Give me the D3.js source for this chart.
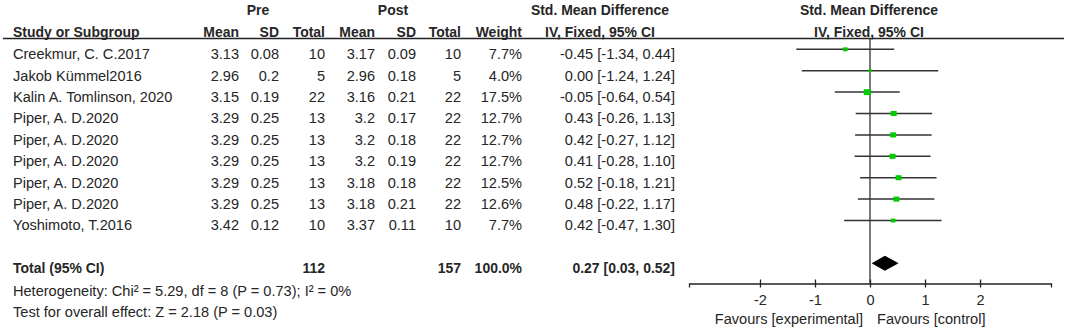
<!DOCTYPE html>
<html><head><meta charset="utf-8">
<script src="https://cdn.jsdelivr.net/npm/d3@7"></script>
<style>body{margin:0;background:#fff}svg{display:block}</style>
</head><body>
<script>
const studies = ["Creekmur, C. C.2017","Jakob Kümmel2016","Kalin A. Tomlinson, 2020","Piper, A. D.2020","Piper, A. D.2020","Piper, A. D.2020","Piper, A. D.2020","Piper, A. D.2020","Yoshimoto, T.2016"];
const preMean = [3.13,2.96,3.15,3.29,3.29,3.29,3.29,3.29,3.42];
const preSD = [0.08,0.2,0.19,0.25,0.25,0.25,0.25,0.25,0.12];
const preTotal = [10,5,22,13,13,13,13,13,10];
const postMean = [3.17,2.96,3.16,3.2,3.2,3.2,3.18,3.18,3.37];
const postSD = [0.09,0.18,0.21,0.17,0.18,0.19,0.18,0.21,0.11];
const postTotal = [10,5,22,22,22,22,22,22,10];
const weight = [7.7,4.0,17.5,12.7,12.7,12.7,12.5,12.6,7.7];
const smd = [-0.45,0.00,-0.05,0.43,0.42,0.41,0.52,0.48,0.42];
const ciLo = [-1.34,-1.24,-0.64,-0.26,-0.27,-0.28,-0.18,-0.22,-0.47];
const ciHi = [0.44,1.24,0.54,1.13,1.12,1.10,1.21,1.17,1.30];
const total = {label:"Total (95% CI)", pre:112, post:157, weight:"100.0%", est:0.27, lo:0.03, hi:0.52};
const hetText = "Heterogeneity: Chi² = 5.29, df = 8 (P = 0.73); I² = 0%";
const testText = "Test for overall effect: Z = 2.18 (P = 0.03)";
const tickValues = [-2,-1,0,1,2];
const favLeft = "Favours [experimental]";
const favRight = "Favours [control]";

const W = 1065, H = 331;
const FS = 15.2, SX = 0.96, SXB = 0.92;
const font = "Liberation Sans, Arial, sans-serif";
const txt = "#262626";
const svg = d3.select("body").append("svg").attr("width", W).attr("height", H);

const rowY = d3.scaleLinear().domain([0, 1]).range([49.3, 70.7]);
const x = d3.scaleLinear().domain([-3.29, 3.29]).range([689, 1051]);
const sq = d3.scaleSqrt().domain([0, 17.5]).range([0, 7]);
const TXT_OFF = 9.8;

// text drawn at baseline y
function t(str, xx, y, anchor, bold) {
  svg.append("text")
    .attr("transform", `translate(${xx},${y}) scale(${bold ? SXB : SX},1)`)
    .attr("text-anchor", anchor || "start")
    .attr("font-family", font).attr("font-size", FS)
    .attr("font-weight", bold ? "bold" : "normal").attr("fill", txt).text(str);
}

// header
const h1 = 15, h2 = 36.5;
t("Pre", 258, h1, "middle", true);
t("Post", 393, h1, "middle", true);
t("Std. Mean Difference", 600, h1, "middle", true);
t("Std. Mean Difference", 869, h1, "middle", true);
t("Study or Subgroup", 13, h2, "start", true);
const colX = {pm:239, ps:279, pt:325, qm:375, qs:416, qt:461, w:522, smd:675};
t("Mean", colX.pm, h2, "end", true);
t("SD", colX.ps, h2, "end", true);
t("Total", colX.pt, h2, "end", true);
t("Mean", colX.qm, h2, "end", true);
t("SD", colX.qs, h2, "end", true);
t("Total", colX.qt, h2, "end", true);
t("Weight", colX.w, h2, "end", true);
t("IV, Fixed, 95% CI", 600, h2, "middle", true);
t("IV, Fixed, 95% CI", 869, h2, "middle", true);

svg.append("line").attr("x1", 3).attr("x2", 1064).attr("y1", 38.5).attr("y2", 38.5)
  .attr("stroke", "#222").attr("stroke-width", 1.3);

// rows
studies.forEach((s, i) => {
  const y = rowY(i) + TXT_OFF;
  t(s, 13, y);
  t(String(preMean[i]), colX.pm, y, "end");
  t(String(preSD[i]), colX.ps, y, "end");
  t(String(preTotal[i]), colX.pt, y, "end");
  t(String(postMean[i]), colX.qm, y, "end");
  t(String(postSD[i]), colX.qs, y, "end");
  t(String(postTotal[i]), colX.qt, y, "end");
  t(weight[i].toFixed(1) + "%", colX.w, y, "end");
  t(smd[i].toFixed(2) + " [" + ciLo[i].toFixed(2) + ", " + ciHi[i].toFixed(2) + "]", colX.smd, y, "end");
});

const yTot = rowY(10);
const yTotT = yTot + TXT_OFF;
t(total.label, 13, yTotT, "start", true);
t(String(total.pre), colX.pt, yTotT, "end", true);
t(String(total.post), colX.qt, yTotT, "end", true);
t(total.weight, colX.w, yTotT, "end", true);
t(total.est.toFixed(2) + " [" + total.lo.toFixed(2) + ", " + total.hi.toFixed(2) + "]", colX.smd, yTotT, "end", true);
t(hetText, 13, 295.5);
t(testText, 13, 316.5);

// plot
const axisY = 283.5;
svg.append("line").attr("x1", x(0)).attr("x2", x(0)).attr("y1", 38.5).attr("y2", axisY)
  .attr("stroke", "#222").attr("stroke-width", 1.2);

const g = svg.append("g");
studies.forEach((s, i) => {
  const y = rowY(i);
  g.append("line").attr("x1", x(ciLo[i])).attr("x2", x(ciHi[i])).attr("y1", y).attr("y2", y)
    .attr("stroke", "#333").attr("stroke-width", 1.5);
  const side = sq(weight[i]);
  g.append("rect").attr("x", x(smd[i]) - side / 2).attr("y", y - side * 0.42)
    .attr("width", side).attr("height", side * 0.85).attr("fill", "#00cc00");
});

const dh = 7.5;
g.append("path").attr("d", `M${x(total.lo)},${yTot}L${x(total.est)},${yTot - dh}L${x(total.hi)},${yTot}L${x(total.est)},${yTot + dh}Z`)
  .attr("fill", "#000");

const axis = d3.axisBottom(x).tickValues(tickValues).tickSize(4).tickFormat(d => String(d));
const ag = svg.append("g").attr("transform", `translate(0,${axisY})`).call(axis);
ag.select(".domain").attr("stroke", "#222").attr("stroke-width", 1.3);
ag.selectAll(".tick line").attr("y1", -4).attr("y2", 4).attr("stroke", "#222").attr("stroke-width", 1.3);
ag.selectAll(".tick text").attr("y", 0).attr("dy", 0)
  .attr("transform", `translate(0,${305 - axisY}) scale(${SX},1)`)
  .attr("font-family", font).attr("font-size", FS).attr("fill", txt);

t(favLeft, 863, 324, "end");
t(favRight, 877, 324, "start");
</script>
</body></html>
